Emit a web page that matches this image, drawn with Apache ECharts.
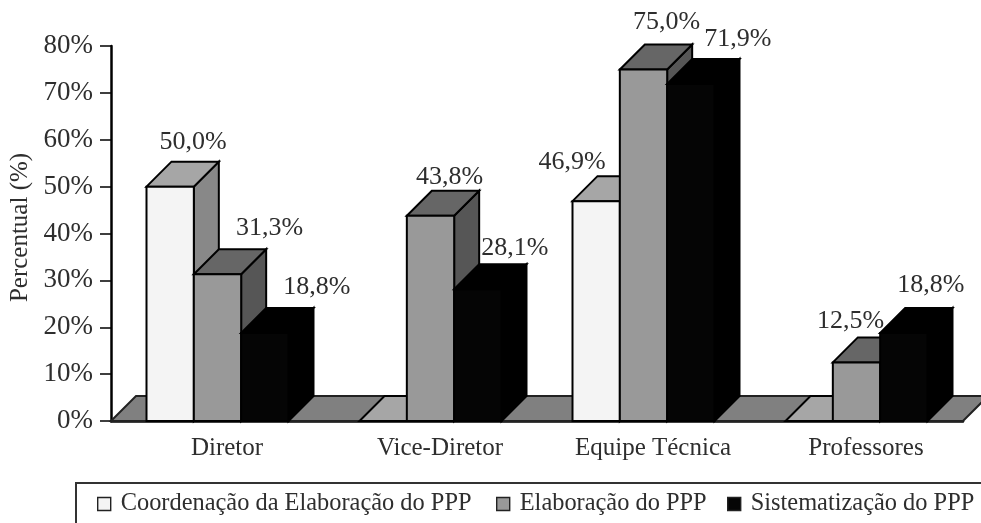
<!DOCTYPE html>
<html>
<head>
<meta charset="utf-8">
<title>Percentual</title>
<script src="https://cdn.jsdelivr.net/npm/echarts@6/dist/echarts.min.js"></script>
<style>
  html, body { margin: 0; padding: 0; background: #fff; }
  #chart { width: 981px; height: 523px; }
</style>
</head>
<body>
<div id="chart"></div>
<script>
const categories = ["Diretor", "Vice-Diretor", "Equipe Técnica", "Professores"];
const coordenacao = [50.0, 0, 46.9, 0];
const elaboracao = [31.3, 43.8, 75.0, 12.5];
const sistematizacao = [18.8, 28.1, 71.9, 18.8];
const seriesNames = [
  "Coordenação da Elaboração do PPP",
  "Elaboração do PPP",
  "Sistematização do PPP"
];
const yTicks = { min: 0, max: 80, interval: 10 };

// layout and colours of the fake 3D look
const DEPTH = 25;
const FONT = "Liberation Serif";
const TEXT = "#2e2e2e";
const faces = [
  { front: "#f4f4f4", top: "#a6a6a6", side: "#888888", line: "#000" },
  { front: "#999999", top: "#666666", side: "#565656", line: "#000" },
  { front: "#050505", top: "#000000", side: "#000000", line: "#000" }
];
// hand placed labels, [dx, dy] from the top back edge of each bar
const labelNudge = [
  [[23, -19], null, [-24, -14], null],
  [[52, -21], [19, -14], [23, -22], [-6, -16]],
  [[52, -21], [37, -16], [47, -20], [27, -23]]
];

const formatPct = v => v.toFixed(1).replace(".", ",") + "%";

function poly(points, fill, line) {
  return {
    type: "polygon",
    shape: { points: points },
    style: { fill: fill, stroke: line, lineWidth: 2, lineJoin: "miter" }
  };
}

function renderFloor(params, api) {
  const cs = params.coordSys;
  const y = api.coord([0, 0])[1];
  const x0 = cs.x;
  const x1 = cs.x + cs.width;
  return poly(
    [[x0, y], [x0 + DEPTH, y - DEPTH], [x1 + DEPTH, y - DEPTH], [x1, y]],
    "#808080",
    "#222"
  );
}

function renderBar(seriesPos) {
  return function(params, api) {
    const cat = api.value(0);
    const val = api.value(1);
    const center = api.coord([cat, val]);
    const base = api.coord([cat, 0])[1];
    const w = api.size([1, 0])[0] * 2 / 9;
    const x = center[0] + (seriesPos - 1.5) * w;
    const y = center[1];
    const f = faces[seriesPos];
    const children = [];
    if (val > 0) {
      children.push(poly(
        [[x + w, y], [x + w + DEPTH, y - DEPTH], [x + w + DEPTH, base - DEPTH], [x + w, base]],
        f.side, f.line
      ));
    }
    children.push(poly(
      [[x, y], [x + DEPTH, y - DEPTH], [x + w + DEPTH, y - DEPTH], [x + w, y]],
      f.top, f.line
    ));
    if (val > 0) {
      children.push(poly([[x, y], [x + w, y], [x + w, base], [x, base]], f.front, f.line));
      const nudge = labelNudge[seriesPos][cat];
      children.push({
        type: "text",
        z2: 100,
        style: {
          text: formatPct(val),
          x: x + w / 2 + nudge[0],
          y: y - DEPTH + nudge[1],
          align: "center",
          verticalAlign: "middle",
          fill: TEXT,
          font: "26px '" + FONT + "'"
        }
      });
    }
    return { type: "group", children: children };
  };
}

const seriesValues = [coordenacao, elaboracao, sistematizacao];

const barSeries = seriesNames.map((name, i) => ({
  name: name,
  type: "custom",
  renderItem: renderBar(i),
  clip: false,
  itemStyle: { color: faces[i].front },
  encode: { x: 0, y: 1 },
  data: seriesValues[i].map((v, c) => [c, v])
}));

const legendLeft = [97, 496, 727];

const option = {
  animation: false,
  backgroundColor: "#fff",
  textStyle: { fontFamily: FONT },
  grid: { left: 111, right: 18, top: 46, bottom: 102, outerBoundsMode: "none" },
  legend: seriesNames.map((name, i) => ({
    data: [name],
    left: legendLeft[i],
    top: 492,
    padding: 0,
    itemWidth: 13,
    itemHeight: 13,
    icon: "rect",
    selectedMode: false,
    itemStyle: { borderColor: "#222", borderWidth: 1.4 },
    textStyle: { fontFamily: FONT, fontSize: 24.4, color: TEXT, padding: [0, 0, 0, 5] }
  })),
  xAxis: {
    type: "category",
    data: categories,
    axisTick: { show: false },
    axisLine: { lineStyle: { color: "#000", width: 2.5 } },
    axisLabel: {
      fontFamily: FONT,
      fontSize: 25,
      color: TEXT,
      margin: 15,
      padding: [0, 0, 0, 19]
    }
  },
  yAxis: {
    type: "value",
    min: yTicks.min,
    max: yTicks.max,
    interval: yTicks.interval,
    name: "Percentual (%)",
    nameLocation: "middle",
    nameGap: 75,
    nameTextStyle: { fontFamily: FONT, fontSize: 25, color: TEXT, padding: [0, 0, 0, 12] },
    splitLine: { show: false },
    axisLine: { show: true, lineStyle: { color: "#000", width: 2.5 } },
    axisTick: { show: true, length: 11, lineStyle: { color: "#000", width: 1.5 } },
    axisLabel: {
      fontFamily: FONT,
      fontSize: 27,
      color: TEXT,
      margin: 18,
      padding: [5, 0, 0, 0],
      formatter: "{value}%"
    }
  },
  graphic: [
    {
      type: "polyline",
      silent: true,
      shape: { points: [[76, 530], [76, 483], [990, 483]] },
      style: { fill: null, stroke: "#333", lineWidth: 2 }
    }
  ],
  series: [
    {
      type: "custom",
      renderItem: renderFloor,
      clip: false,
      silent: true,
      encode: { x: 0, y: 1 },
      data: [[0, 0]]
    }
  ].concat(barSeries)
};

const chart = echarts.init(document.getElementById("chart"));
chart.setOption(option);
</script>
</body>
</html>
